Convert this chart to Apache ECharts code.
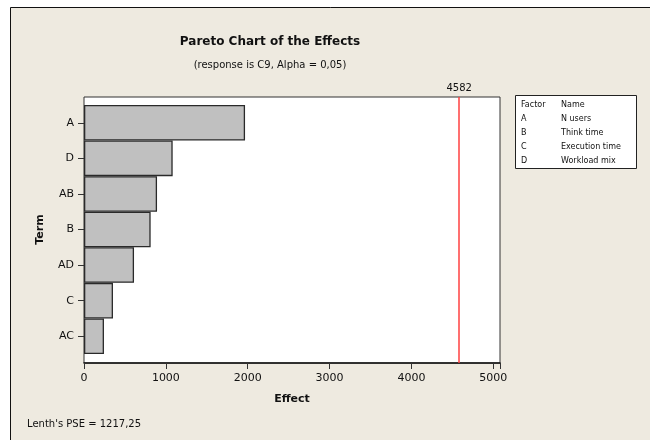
<!DOCTYPE html>
<html>
<head>
<meta charset="utf-8">
<script src="https://cdn.jsdelivr.net/npm/echarts@6/dist/echarts.min.js"></script>
<style>
  html, body { margin: 0; padding: 0; background: #ffffff; }
  #main { width: 650px; height: 440px; }
</style>
</head>
<body>
<div id="main"></div>
<script>
// terms sorted by effect, largest on top
var terms = ['A', 'D', 'AB', 'B', 'AD', 'C', 'AC'];
var effects = [1967, 1083, 892, 814, 611, 354, 244];
var critical = 4582;
var xTicks = [0, 1000, 2000, 3000, 4000, 5000];
var factorKeys = ['A', 'B', 'C', 'D'];
var factorNames = ['N users', 'Think time', 'Execution time', 'Workload mix'];
var pseText = "Lenth's PSE = 1217,25";

var FONT = 'DejaVu Sans';
var chart = echarts.init(document.getElementById('main'), null, { renderer: 'canvas' });

// legend box built from the factor arrays
var legendItems = [
    { type: 'rect', shape: { x: 515.5, y: 95.5, width: 121, height: 73 },
      style: { fill: '#ffffff', stroke: '#222', lineWidth: 1 } },
    { type: 'text', x: 521, y: 105, style: { text: 'Factor', font: '8px ' + FONT, fill: '#111', verticalAlign: 'middle' } },
    { type: 'text', x: 561, y: 105, style: { text: 'Name', font: '8px ' + FONT, fill: '#111', verticalAlign: 'middle' } }
];
factorKeys.forEach(function (k, i) {
    var y = 118.5 + i * 14;
    legendItems.push({ type: 'text', x: 521, y: y, style: { text: k, font: '8px ' + FONT, fill: '#111', verticalAlign: 'middle' } });
    legendItems.push({ type: 'text', x: 561, y: y, style: { text: factorNames[i], font: '8px ' + FONT, fill: '#111', verticalAlign: 'middle' } });
});

var option = {
    animation: false,
    backgroundColor: '#ffffff',
    title: [{
        text: 'Pareto Chart of the Effects',
        left: 265, top: 31, textAlign: 'center',
        textStyle: { fontFamily: FONT, fontSize: 12, fontWeight: 'bold', color: '#111' }
    }, {
        text: '(response is C9, Alpha = 0,05)',
        left: 265, top: 55, textAlign: 'center',
        textStyle: { fontFamily: FONT, fontSize: 10, fontWeight: 'normal', color: '#111' }
    }],
    graphic: [
        { type: 'rect', z: -10, shape: { x: 10.5, y: 7.5, width: 660, height: 460 },
          style: { fill: '#EEEAE0', stroke: '#111', lineWidth: 1 } },
        { type: 'text', left: 27, top: 419, style: { text: pseText, font: '10px ' + FONT, fill: '#111' } }
    ].concat(legendItems),
    grid: [
        // outer plot frame, x axis lives here
        { left: 84, top: 97, width: 416, height: 266, show: true, backgroundColor: '#ffffff', borderColor: '#333', borderWidth: 1 },
        // bars sit inside with small gaps top and bottom
        { left: 84, top: 105, width: 416, height: 249 }
    ],
    xAxis: [{
        gridIndex: 0, type: 'value', min: 0, max: 5081, interval: 1000,
        name: 'Effect', nameLocation: 'middle', nameGap: 31,
        nameTextStyle: { fontFamily: FONT, fontSize: 11, fontWeight: 'bold', color: '#111' },
        axisLine: { show: true, lineStyle: { color: '#111', width: 1.5 } },
        axisTick: { show: true, length: 6, lineStyle: { color: '#333' } },
        axisLabel: { fontFamily: FONT, fontSize: 11, color: '#111', margin: 10,
            customValues: xTicks, showMaxLabel: true,
            formatter: function (v) { return String(v); } },
        splitLine: { show: false }
    }, {
        gridIndex: 1, type: 'value', min: 0, max: 5081, show: false
    }],
    yAxis: [{
        gridIndex: 0, type: 'value', min: 0, max: 1, show: false
    }, {
        gridIndex: 1, type: 'category', data: terms, inverse: true,
        name: 'Term', nameLocation: 'middle', nameGap: 38, nameRotate: 90,
        nameTextStyle: { fontFamily: FONT, fontSize: 11, fontWeight: 'bold', color: '#111' },
        axisLine: { show: false },
        axisTick: { show: true, alignWithLabel: true, length: 6, lineStyle: { color: '#333' } },
        axisLabel: { fontFamily: FONT, fontSize: 11, color: '#111', margin: 10 },
        splitLine: { show: false }
    }],
    series: [{
        type: 'bar', xAxisIndex: 1, yAxisIndex: 1,
        data: effects, barCategoryGap: '0%',
        itemStyle: { color: '#C0C0C0', borderColor: '#2a2a2a', borderWidth: 1.3 },
        silent: true
    }, {
        type: 'scatter', xAxisIndex: 0, yAxisIndex: 0,
        data: [[0, 0]], symbolSize: 0, silent: true,
        markLine: {
            silent: true, symbol: ['none', 'none'],
            lineStyle: { color: '#FF4040', width: 1.5, type: 'solid' },
            label: { show: true, position: 'end', formatter: String(critical),
                fontFamily: FONT, fontSize: 10, color: '#111', distance: 4 },
            data: [{ xAxis: critical }]
        }
    }]
};
chart.setOption(option);
</script>
</body>
</html>
